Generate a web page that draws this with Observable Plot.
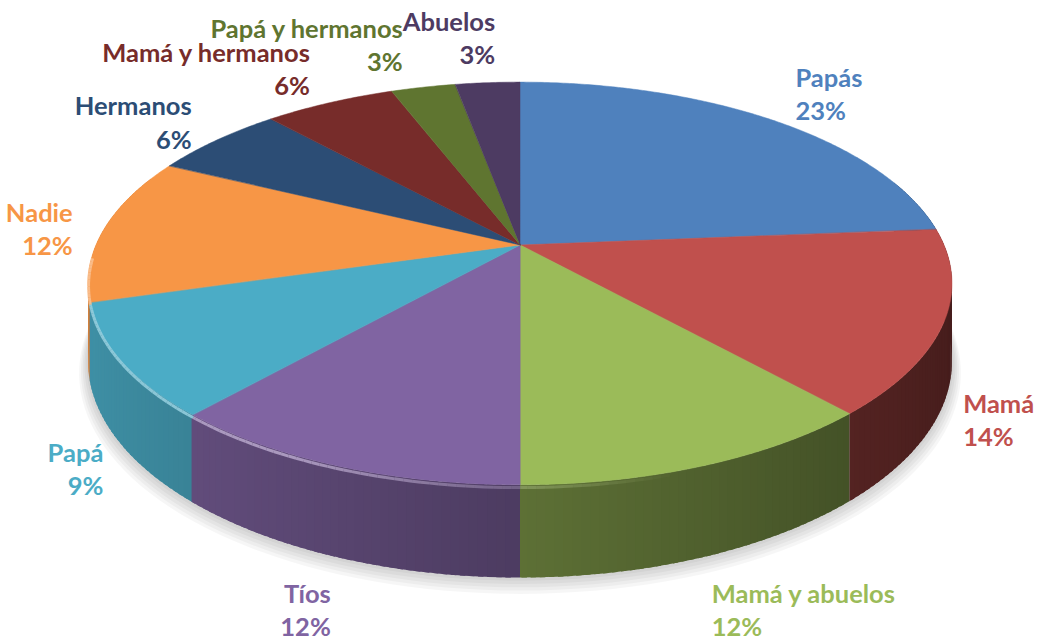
<!DOCTYPE html>
<html><head><meta charset="utf-8">
<script src="https://cdn.jsdelivr.net/npm/d3@7"></script>
<script src="https://cdn.jsdelivr.net/npm/@observablehq/plot@0.6"></script>
<style>body{margin:0;background:#fff}#chart{width:1037px;height:640px}</style>
</head><body><div id="chart"></div>
<script>
const categories = ["Papás","Mamá","Mamá y abuelos","Tíos","Papá","Nadie","Hermanos","Mamá y hermanos","Papá y hermanos","Abuelos"];
const shares = [23.7,14.7,11.6,11.5,9.0,11.8,6.0,5.9,2.9,2.9];
const pctLabels = ["23%","14%","12%","12%","9%","12%","6%","6%","3%","3%"];
const colors = ["#4F81BD","#C0504D","#9BBB59","#8064A2","#4BACC6","#F79646","#2C4D75","#772C2A","#5F7530","#4D3B62"];

// layout constants (3D perspective pie)
const W = 1037, H = 640, CX = 520, CY = 245, RX = 424, RY = 194, PERSP = 0.191, DEPTH = 75;
const FS = 25.5, FONT = "Lato, 'Open Sans', sans-serif";
function proj(theta, k = 1, z = 0) {
  const u = Math.sin(theta) * k, v = -Math.cos(theta) * k;
  const s = 1 / (1 - PERSP * v);
  return [RX * u * s, RY * v * s + DEPTH * z * s];
}
const arcs = d3.pie().sort(null).value(d => d)(shares);

// shadow
const shadow = [];
for (let L = 1; L <= 5; L++) {
  for (let j = 0; j <= 180; j++) {
    const t = j / 180 * 2 * Math.PI;
    const [x, y] = proj(t, 1 + 0.004 * L, 1);
    shadow.push({id: L, x1: x, y1: y + 2 * L, x2: 0, y2: DEPTH + 2 * L});
  }
}

// side strips (overlapping slightly to avoid seams)
const strips = [];
arcs.forEach((a, i) => {
  const step = Math.PI / 180;
  let t0 = a.startAngle;
  while (t0 < a.endAngle - 1e-9) {
    const t1 = Math.min(a.endAngle, t0 + step);
    const tm = (t0 + t1) / 2;
    const vm = -Math.cos(tm);
    if (vm > -0.35) {
      const f = 0.6 - 0.245 * Math.sin(tm);
      const e = (t1 < a.endAngle) ? step * 0.6 : 0;
      strips.push({t0, t1: t1 + e, vm, c: d3.interpolateRgb(colors[i], "#000")(1 - f)});
    }
    t0 = t1;
  }
});
strips.sort((a, b) => a.vm - b.vm);
const side = [];
strips.forEach((s, k) => {
  for (const t of [s.t0, s.t1]) {
    const [x, y] = proj(t);
    const [, yb] = proj(t, 1, 1);
    side.push({id: k, x1: x, y1: y, x2: x, y2: yb, fill: s.c});
  }
});

// top wedges
const wedge = [];
arcs.forEach((a, i) => {
  const n = Math.max(2, Math.ceil((a.endAngle - a.startAngle) / (Math.PI / 360)));
  for (let j = 0; j <= n; j++) {
    const t = a.startAngle + (a.endAngle - a.startAngle) * j / n;
    const [x, y] = proj(t);
    wedge.push({id: i, x1: x, y1: y, x2: 0, y2: 0, fill: colors[i]});
  }
});

// rim highlight
const rim = [];
arcs.forEach((a, i) => {
  const step = Math.PI / 180;
  let t0 = a.startAngle;
  while (t0 < a.endAngle - 1e-9) {
    const t1 = Math.min(a.endAngle, t0 + step);
    const tm = (t0 + t1) / 2;
    const v = -Math.cos(tm), u = Math.sin(tm);
    if (v > 0.05) {
      const [xa, ya] = proj(t0, 1, 0.025);
      const [xb, yb] = proj(t1, 1, 0.025);
      rim.push({x1: xa, y1: ya, x2: xb, y2: yb,
        c: d3.interpolateRgb(colors[i], "#fff")(0.4),
        o: Math.max(0, Math.min(0.9, (0.3 - u) * 1.2))});
    }
    t0 = t1;
  }
});

// labels: anchored outside the slice mid-angle, simple same-row collision resolution
const ctx = document.createElement("canvas").getContext("2d");
ctx.font = `700 ${FS}px ${FONT}`;
const labelData = arcs.map((a, i) => {
  const tm = (a.startAngle + a.endAngle) / 2;
  const u = Math.sin(tm), v = -Math.cos(tm);
  const front = v > 0.2;
  const [ax, ay] = proj(tm, 1.05, front ? 1 : 0);
  const pad = front ? -4 : 12 * Math.min(1, 2 * Math.abs(u));
  const off = v < 0 ? -40 * v * v : (front ? 6 + 35 * v * v : 40 * v * v);
  const w = Math.max(ctx.measureText(categories[i]).width, ctx.measureText(pctLabels[i]).width);
  const right = u > 0;
  const edge = ax + Math.sign(u) * pad;
  return {text: categories[i] + "\n" + pctLabels[i], fill: colors[i], right,
    y: ay + off, l: right ? edge : edge - w, r: right ? edge + w : edge};
});
for (let it = 0; it < 6; it++) {
  for (let i = 0; i < labelData.length; i++) for (let j = i + 1; j < labelData.length; j++) {
    const A = labelData[i], B = labelData[j];
    if (Math.abs(A.y - B.y) > 12) continue;
    const ov = Math.min(A.r, B.r) - Math.max(A.l, B.l);
    if (ov > 0) {
      const [Lf, Rt] = (A.l + A.r < B.l + B.r) ? [A, B] : [B, A];
      Lf.l -= ov / 2; Lf.r -= ov / 2; Rt.l += ov / 2; Rt.r += ov / 2;
    }
  }
}
labelData.forEach(d => { d.x = d.right ? d.l : d.r; });

const textOpts = {x: "x", y: "y", text: "text", fill: "fill", lineAnchor: "middle",
  fontSize: FS, fontWeight: 700, fontFamily: FONT, lineHeight: 1.3};

const chart = Plot.plot({
  width: W, height: H, margin: 0,
  x: {domain: [-CX, W - CX], range: [0, W], axis: null},
  y: {domain: [-CY, H - CY], range: [0, H], axis: null},
  color: {type: "identity"},
  style: {background: "#fff"},
  marks: [
    Plot.area(shadow, {x1: "x1", y1: "y1", x2: "x2", y2: "y2", z: "id", fill: "#000", fillOpacity: 0.035}),
    Plot.area(side, {x1: "x1", y1: "y1", x2: "x2", y2: "y2", z: "id", fill: "fill"}),
    Plot.area(wedge, {x1: "x1", y1: "y1", x2: "x2", y2: "y2", z: "id", fill: "fill", stroke: "fill", strokeWidth: 0.5}),
    Plot.link(rim, {x1: "x1", y1: "y1", x2: "x2", y2: "y2", stroke: "c", strokeOpacity: "o", strokeWidth: 3}),
    Plot.text(labelData.filter(d => d.right), {...textOpts, textAnchor: "start"}),
    Plot.text(labelData.filter(d => !d.right), {...textOpts, textAnchor: "end"})
  ]
});
document.getElementById("chart").appendChild(chart);
</script>
</body></html>
